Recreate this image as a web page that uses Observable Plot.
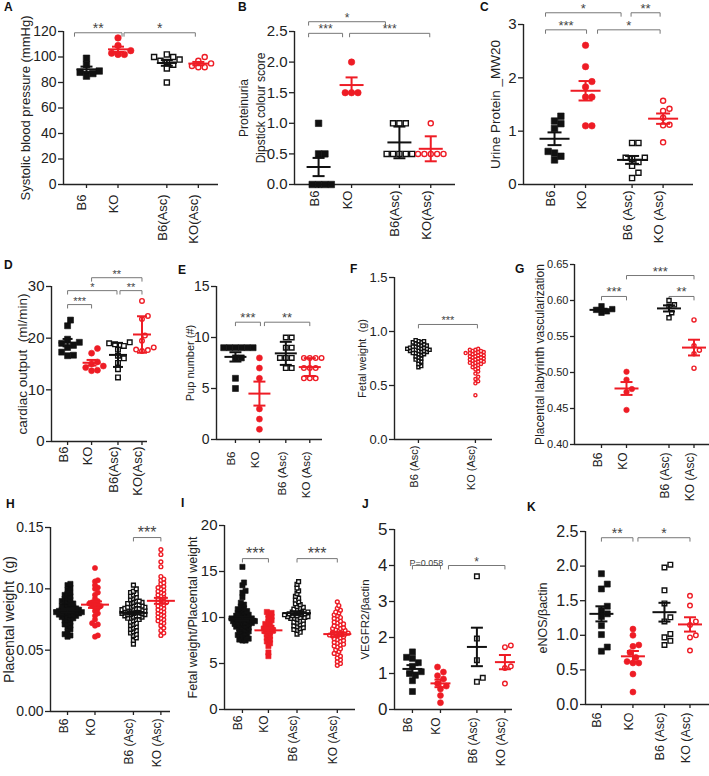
<!DOCTYPE html>
<html><head><meta charset="utf-8">
<script src="https://cdn.jsdelivr.net/npm/d3@7"></script>
<script src="https://cdn.jsdelivr.net/npm/@observablehq/plot@0.6"></script>
<style>
body{margin:0;background:#fff;}
#fig{position:relative;width:709px;height:776px;overflow:hidden;font-family:"Liberation Sans",Arial,sans-serif;background:#fff;}
.lbl{position:absolute;font-weight:bold;font-size:12px;line-height:1;color:#111;}
</style></head><body><div id="fig"></div>
<script>
// ---------------- DATA ----------------
const catsA = ["B6","KO","B6(Asc)","KO(Asc)"];
const sbpB6 = [94, 85, 89, 99, 87, 88];
const sbpKO = [102, 115, 109, 105, 103, 102];
const sbpB6Asc = [100, 98, 102, 96, 94, 91, 80, 100, 97];
const sbpKOAsc = [100, 97, 95, 92, 92, 93];

const catsB = ["B6","KO","B6(Asc)","KO(Asc)"];
const protB6 = [1, 0.5, 0.5, 0, 0, 0, 0];
const protKO = [2, 1.5, 1.5, 1.5];
const protB6Asc = [1, 1, 1, 0.5, 0.5, 0.5, 0.5, 0.5];
const protKOAsc = [1, 0.5, 0.5, 0.5, 0.5, 0.5];

const catsC = ["B6","KO","B6 (Asc)","KO (Asc)"];
const upB6 = [1.14, 1.19, 1.28, 1.05, 0.62, 0.46, 0.59, 0.53];
const upKO = [2.61, 2.21, 1.93, 1.83, 1.64, 1.64, 1.10, 1.10];
const upB6Asc = [0.78, 0.78, 0.50, 0.50, 0.48, 0.42, 0.35, 0.22, 0.12];
const upKOAsc = [1.57, 1.42, 1.38, 1.25, 1.11, 1.12, 0.79];

const catsD = ["B6","KO","B6(Asc)","KO(Asc)"];
const cardB6 = [23.5, 22.4, 19.8, 19.0, 19.2, 18.6, 18.2, 16.7, 16.6, 17.3];
const cardKO = [18.0, 17.1, 15.4, 15.0, 14.6, 13.7, 13.8, 14.3];
const cardB6Asc = [18.8, 19.2, 19.0, 18.5, 16.6, 16.1, 15.2, 14.0, 12.4, 17.8];
const cardKOAsc = [27.2, 24.3, 23.7, 19.5, 17.7, 17.5, 17.8, 18.2, 20.5];

const catsE = ["B6","KO","B6 (Asc)","KO (Asc)"];
const pupB6 = [9, 9, 9, 9, 9, 9, 8, 8, 6, 5];
const pupKO = [8, 7, 6, 3, 2, 1];
const pupB6Asc = [10, 10, 9, 9, 8, 8, 8, 7, 7];
const pupKOAsc = [8, 8, 8, 8, 7, 7, 7, 6, 6, 6];

const catsF = ["B6 (Asc)","KO (Asc)"];
const fwB6Asc = [0.92,0.91,0.91,0.90,0.90,0.89,0.88,0.88,0.87,0.87,0.86,0.86,0.85,0.85,0.85,0.84,0.84,0.84,0.83,0.83,0.83,0.82,0.82,0.82,0.81,0.81,0.80,0.80,0.79,0.79,0.78,0.77,0.76,0.75,0.74,0.73,0.72,0.70,0.68,0.67];
const fwKOAsc = [0.84,0.83,0.83,0.82,0.82,0.81,0.81,0.80,0.80,0.80,0.79,0.79,0.78,0.78,0.77,0.77,0.76,0.76,0.75,0.75,0.74,0.74,0.73,0.73,0.72,0.72,0.71,0.71,0.70,0.70,0.69,0.68,0.67,0.66,0.65,0.63,0.61,0.58,0.56,0.54,0.52,0.41];

const catsG = ["B6","KO","B6 (Asc)","KO (Asc)"];
const labB6 = [0.592, 0.588, 0.585, 0.583, 0.587];
const labKO = [0.501, 0.490, 0.477, 0.473, 0.448];
const labB6Asc = [0.600, 0.592, 0.583, 0.576, 0.594];
const labKOAsc = [0.573, 0.537, 0.531, 0.526, 0.506];

const catsH = ["B6","KO","B6 (Asc)","KO (Asc)"];
const pwB6 = [0.104,0.103,0.101,0.099,0.097,0.096,0.095,0.094,0.093,0.092,0.091,0.090,0.090,0.089,0.088,0.088,0.087,0.086,0.086,0.085,0.085,0.084,0.084,0.083,0.083,0.083,0.082,0.082,0.082,0.081,0.081,0.081,0.081,0.080,0.080,0.080,0.079,0.079,0.079,0.078,0.078,0.077,0.077,0.076,0.076,0.075,0.074,0.073,0.072,0.071,0.070,0.069,0.067,0.065,0.063,0.062,0.061];
const pwKO = [0.117,0.107,0.106,0.103,0.101,0.100,0.097,0.095,0.092,0.090,0.089,0.088,0.088,0.087,0.086,0.086,0.085,0.084,0.082,0.080,0.078,0.075,0.072,0.071,0.070,0.062,0.061];
const pwB6Asc = [0.103,0.100,0.098,0.097,0.096,0.095,0.094,0.093,0.092,0.091,0.090,0.090,0.089,0.089,0.088,0.088,0.087,0.087,0.086,0.086,0.085,0.085,0.085,0.084,0.084,0.084,0.083,0.083,0.083,0.082,0.082,0.082,0.081,0.081,0.081,0.080,0.080,0.080,0.079,0.079,0.079,0.078,0.078,0.078,0.077,0.077,0.076,0.076,0.075,0.075,0.074,0.073,0.072,0.071,0.070,0.069,0.068,0.067,0.066,0.065,0.064,0.063,0.062,0.060,0.058,0.055];
const pwKOAsc = [0.132,0.128,0.122,0.118,0.110,0.108,0.107,0.105,0.104,0.102,0.101,0.100,0.099,0.098,0.097,0.096,0.095,0.094,0.093,0.092,0.091,0.090,0.089,0.089,0.088,0.087,0.086,0.085,0.084,0.083,0.082,0.081,0.080,0.079,0.078,0.077,0.076,0.075,0.074,0.073,0.072,0.070,0.068,0.066,0.064,0.062];

const catsI = ["B6","KO","B6 (Asc)","KO (Asc)"];
const ratioB6 = [15.5,13.8,13.5,12.9,12.7,12.2,11.6,11.4,11.2,11.0,10.9,10.8,10.7,10.6,10.5,10.4,10.3,10.3,10.2,10.1,10.0,10.0,9.9,9.9,9.8,9.8,9.7,9.7,9.6,9.6,9.5,9.5,9.4,9.4,9.3,9.3,9.2,9.1,9.0,9.0,8.9,8.8,8.7,8.6,8.5,8.4,8.3,8.2,8.1,8.0,7.9,7.8,7.7,7.6,7.5,7.5];
const ratioKO = [10.6,10.5,10.3,10.1,9.9,9.7,9.5,9.3,9.2,9.0,8.9,8.8,8.7,8.6,8.5,8.4,8.2,8.0,7.8,7.6,7.4,7.2,6.9,6.2,5.8];
const ratioB6Asc = [13.9,13.6,13.2,12.9,12.6,12.3,12.1,11.9,11.7,11.5,11.4,11.2,11.1,11.0,10.9,10.8,10.7,10.6,10.6,10.5,10.5,10.4,10.4,10.3,10.3,10.2,10.2,10.1,10.1,10.0,10.0,9.9,9.9,9.8,9.7,9.6,9.5,9.4,9.3,9.2,9.1,9.0,8.9,8.8,8.7,8.6,8.4,8.2];
const ratioKOAsc = [11.7,11.3,11.0,10.8,10.6,10.5,10.3,10.2,10.0,9.9,9.8,9.6,9.5,9.4,9.3,9.2,9.1,9.0,8.9,8.8,8.8,8.7,8.6,8.5,8.5,8.4,8.3,8.3,8.2,8.2,8.1,8.0,8.0,7.9,7.8,7.7,7.6,7.5,7.4,7.3,7.2,7.1,7.0,6.9,6.8,6.6,6.5,6.3,6.1,6.0,5.8,5.6,5.4,5.2,5.0,4.8];

const catsJ = ["B6","KO","B6 (Asc)","KO (Asc)"];
const vegB6 = [1.6, 1.45, 1.42, 1.3, 1.2, 1.05, 0.95, 0.8, 0.5, 1.0];
const vegKO = [1.18, 1.04, 0.94, 0.85, 0.72, 0.65, 0.57, 0.39, 0.19];
const vegB6Asc = [3.7, 1.97, 1.37, 0.88, 0.77];
const vegKOAsc = [1.78, 1.73, 1.2, 1.15, 0.72];

const catsK = ["B6","KO","B6 (Asc)","KO (Asc)"];
const enB6 = [1.89, 1.74, 1.67, 1.42, 1.36, 1.31, 1.27, 1.14, 1.01, 0.83, 0.77];
const enKO = [1.09, 1.0, 0.86, 0.84, 0.75, 0.68, 0.62, 0.6, 0.6, 0.44, 0.18];
const enB6Asc = [2.02, 1.98, 1.65, 1.46, 1.26, 1.2, 1.02, 0.97, 0.92, 0.86];
const enKOAsc = [1.57, 1.43, 1.2, 1.15, 1.0, 0.97, 0.78];

// ---------------- STYLE ----------------
const RED = "#ee1c25", BLK = "#111", AX = "#222";
const std = [
  {shape: "square", filled: true, color: BLK},
  {shape: "circle", filled: true, color: RED},
  {shape: "square", filled: false, color: BLK},
  {shape: "circle", filled: false, color: RED}
];
const fmt0 = d3.format("d"), fmt1 = d3.format(".1f"), fmt2 = d3.format(".2f");

const fig = document.getElementById("fig");
function letter(t, x, y) {
  const d = document.createElement("div");
  d.className = "lbl"; d.textContent = t;
  d.style.left = x + "px"; d.style.top = y + "px";
  fig.appendChild(d);
}

function drawPanel(cfg) {
  const mL = 80, mR = 20, mT = 40, mB = 90;
  const [fx0, fx1, fyT, fyB] = cfg.frame;
  const W = fx1 - fx0, H = fyB - fyT;
  const xdom = cfg.xdom, ydom = cfg.ydom;
  const pxu = W / (xdom[1] - xdom[0]);
  const pyu = H / (ydom[1] - ydom[0]);
  const styles = cfg.styles || std;
  const pack = cfg.pack || 0.98;
  const marks = [];
  marks.push(Plot.ruleY([ydom[0]], {stroke: AX, strokeWidth: 1.4}));
  marks.push(Plot.ruleX([xdom[0]], {stroke: AX, strokeWidth: 1.4}));
  marks.push(Plot.axisY({ticks: cfg.yticks, tickFormat: cfg.yfmt, tickSize: cfg.tickSize || 5, tickPadding: 2, fontSize: cfg.fsTick, label: null, strokeWidth: 1.3}));
  marks.push(Plot.axisX({ticks: cfg.slots, tickFormat: () => "", tickSize: 4, label: null, strokeWidth: 1.3}));
  marks.push(Plot.text(cfg.cats, {x: (d, i) => cfg.slots[i], frameAnchor: "bottom", rotate: -90, textAnchor: "end", dy: cfg.catGap, fontSize: cfg.fsCat}));
  marks.push(Plot.text([cfg.ylabel], {frameAnchor: "left", rotate: -90, textAnchor: "middle", dx: -cfg.ylabOff, fontSize: cfg.fsLab, lineHeight: cfg.lineHeight || 1}));
  // brackets
  const bl = [], bt = [];
  (cfg.brackets || []).forEach(([a, b, lab, lev, da = 0, db = 0, fs], k) => {
    const xa = cfg.slots[cfg.cats.indexOf(a)] + da / pxu;
    const xb = cfg.slots[cfg.cats.indexOf(b)] + db / pxu;
    const tk = 3.5 / pyu;
    bl.push({id: k, x: xa, y: lev - tk}, {id: k, x: xa, y: lev}, {id: k, x: xb, y: lev}, {id: k, x: xb, y: lev - tk});
    bt.push({x: (xa + xb) / 2, y: lev, t: lab, fs: fs || cfg.fsStar});
  });
  marks.push(Plot.line(bl, {x: "x", y: "y", z: "id", stroke: "#777", strokeWidth: 1}));
  marks.push(Plot.text(bt, {x: "x", y: "y", text: "t", fontSize: d => d.fs, lineAnchor: "bottom", dy: 0, fill: "#444"}));
  // swarms
  const D = cfg.size;
  cfg.groups.forEach((vals, gi) => {
    const st = styles[gi];
    const placed = [], pts = [];
    const order = vals.slice().sort((a, b) => a - b);
    for (const v of order) {
      const py = v * pyu;
      let off = 0;
      for (let k = 0; k < 400; k++) {
        const c = k === 0 ? 0 : (k % 2 ? 1 : -1) * Math.ceil(k / 2) * D * 0.5 * pack;
        if (placed.every(p => Math.hypot(p.ox - c, p.py - py) >= D * pack)) { off = c; break; }
      }
      placed.push({ox: off, py});
      pts.push({x: cfg.slots[gi] + off / pxu, y: v});
    }
    const sw = st.filled ? 0.6 : 1.4;
    const r = st.shape === "square" ? (D - (st.filled ? 0 : sw)) / 1.772 : (D - (st.filled ? 0 : sw)) / 2;
    marks.push(Plot.dot(pts, {x: "x", y: "y", symbol: st.shape, r, fill: st.filled ? st.color : "white", stroke: st.color, strokeWidth: sw}));
  });
  // error bars
  if (cfg.err) {
    cfg.groups.forEach((vals, gi) => {
      const st = styles[gi];
      const m = d3.mean(vals), sd = d3.deviation(vals);
      const e = cfg.err[gi] === "sd" ? sd : sd / Math.sqrt(vals.length);
      const x = cfg.slots[gi], mw = cfg.meanHalf / pxu, cw = cfg.capHalf / pxu;
      const segs = [
        {x1: x - mw, x2: x + mw, y1: m, y2: m},
        {x1: x, x2: x, y1: m - e, y2: m + e},
        {x1: x - cw, x2: x + cw, y1: m + e, y2: m + e},
        {x1: x - cw, x2: x + cw, y1: m - e, y2: m - e}
      ];
      marks.push(Plot.link(segs, {x1: "x1", x2: "x2", y1: "y1", y2: "y2", stroke: st.color, strokeWidth: 2}));
    });
  }
  const svg = Plot.plot({
    width: mL + W + mR, height: mT + H + mB,
    marginLeft: mL, marginRight: mR, marginTop: mT, marginBottom: mB,
    x: {type: "linear", domain: xdom},
    y: {type: "linear", domain: ydom},
    style: {background: "transparent", overflow: "visible", fontFamily: "'Liberation Sans', Arial, sans-serif", color: "#222", maxWidth: "none"},
    marks
  });
  svg.style.position = "absolute";
  svg.style.left = (fx0 - mL) + "px";
  svg.style.top = (fyT - mT) + "px";
  fig.appendChild(svg);
}

const rng = (a, b, s) => d3.range(a, b + s / 2, s);

drawPanel({frame: [63, 218, 31, 184], ydom: [0, 120], yticks: rng(0, 120, 20), yfmt: fmt0,
  slots: [0, 1, 2.55, 3.55], xdom: [-0.73, 4.19], cats: catsA, catGap: 10,
  fsTick: 14, fsCat: 13, fsLab: 13, fsStar: 14, ylabel: "Systolic blood pressure (mmHg)", ylabOff: 38,
  size: 6.5, meanHalf: 10, capHalf: 6, err: ["sem","sem","sem","sem"],
  groups: [sbpB6, sbpKO, sbpB6Asc, sbpKOAsc],
  brackets: [["B6","KO","**",119,-12,4], ["KO","KO(Asc)","*",119,6,-3]]});

drawPanel({frame: [294, 455, 31, 184], ydom: [0, 2.5], yticks: rng(0, 2.5, 0.5), yfmt: fmt1,
  slots: [0, 1, 2.45, 3.4], xdom: [-0.73, 4.15], cats: catsB, catGap: 6,
  fsTick: 15, fsCat: 13, fsLab: 12, fsStar: 12, ylabel: "Proteinuria\nDipstick colour score", ylabOff: 43, lineHeight: 1.4,
  size: 6.5, meanHalf: 12, capHalf: 6, err: ["sem","sem","sd","sd"],
  groups: [protB6, protKO, protB6Asc, protKOAsc],
  brackets: [["B6","KO","***",2.47,-10,-9], ["B6","B6(Asc)","*",2.66,-10,-14], ["KO","KO(Asc)","***",2.47,-2,-1]]});

drawPanel({frame: [523, 693, 24, 184], ydom: [0, 3], yticks: [0, 1, 2, 3], yfmt: fmt0,
  slots: [0, 1, 2.5, 3.5], xdom: [-1.0, 4.48], cats: catsC, catGap: 6,
  fsTick: 15, fsCat: 13, fsLab: 13.5, fsStar: 13, ylabel: "Urine Protein _MW20", ylabOff: 28,
  size: 6.5, meanHalf: 15, capHalf: 7, err: ["sem","sem","sem","sem"],
  groups: [upB6, upKO, upB6Asc, upKOAsc],
  brackets: [["B6","B6 (Asc)","*",3.22,-9,-11], ["B6 (Asc)","KO (Asc)","**",3.22,-1,-3], ["B6","KO","***",2.9,-9,1], ["KO","KO (Asc)","*",2.9,12,-3]]});

drawPanel({frame: [51, 147, 286, 441], ydom: [0, 30], yticks: [0, 10, 20, 30], yfmt: fmt0,
  slots: [0, 1, 2.1, 3.1], xdom: [-0.67, 3.33], cats: catsD, catGap: 5,
  fsTick: 15, fsCat: 13, fsLab: 13.5, fsStar: 11, ylabel: "cardiac output  (ml/min)", ylabOff: 29,
  size: 6, meanHalf: 9, capHalf: 5, err: ["sem","sem","sd","sd"],
  groups: [cardB6, cardKO, cardB6Asc, cardKOAsc],
  brackets: [["B6","KO","***",26.5,0,0], ["B6","B6(Asc)","*",29.2,0,-1], ["B6(Asc)","KO(Asc)","**",29.2,2,0], ["KO","KO(Asc)","**",31.7,0,0]]});

drawPanel({frame: [216, 322, 286, 439], ydom: [0, 15], yticks: [0, 5, 10, 15], yfmt: fmt0,
  slots: [0, 1, 2.1, 3.1], xdom: [-0.79, 3.63], cats: catsE, catGap: 12,
  fsTick: 14, fsCat: 11.5, fsLab: 11, fsStar: 13, ylabel: "Pup number (#)", ylabOff: 26,
  size: 6, meanHalf: 11, capHalf: 6, err: ["sem","sem","sd","sd"],
  groups: [pupB6, pupKO, pupB6Asc, pupKOAsc],
  brackets: [["B6","KO","***",11.5,0,1], ["KO","KO (Asc)","**",11.5,5,0]]});

drawPanel({frame: [394, 492, 277, 439], ydom: [0, 1.5], yticks: [0, 0.5, 1, 1.5], yfmt: fmt1,
  slots: [0, 1], xdom: [-0.42, 1.30], cats: catsF, catGap: 6,
  fsTick: 13, fsCat: 11, fsLab: 11, fsStar: 11, ylabel: "Fetal weight  (g)", ylabOff: 32,
  size: 4.5, pack: 0.62, err: null, styles: [std[2], std[3]],
  groups: [fwB6Asc, fwKOAsc],
  brackets: [["B6 (Asc)","KO (Asc)","***",1.065,0,2]]});

drawPanel({frame: [574, 709, 264, 444], ydom: [0.40, 0.65], yticks: rng(0.40, 0.65, 0.05), yfmt: fmt2,
  slots: [0, 1, 2.7, 3.7], xdom: [-1.08, 4.32], cats: catsG, catGap: 8,
  fsTick: 11, fsCat: 12, fsLab: 12, fsStar: 13, ylabel: "Placental labyrinth vascularization", ylabOff: 34, tickSize: 4,
  size: 5.5, meanHalf: 12, capHalf: 6, err: ["sem","sem","sem","sem"],
  groups: [labB6, labKO, labB6Asc, labKOAsc],
  brackets: [["B6","KO","***",0.6056,0,0], ["KO","KO (Asc)","***",0.6347,0,0], ["B6 (Asc)","KO (Asc)","**",0.6056,0,0]]});

drawPanel({frame: [50, 170, 527, 711], ydom: [0, 0.15], yticks: [0, 0.05, 0.10, 0.15], yfmt: fmt2,
  slots: [0, 1, 2.4, 3.4], xdom: [-0.62, 3.75], cats: catsH, catGap: 7,
  fsTick: 14, fsCat: 12, fsLab: 14, fsStar: 16, ylabel: "Placental weight  (g)", ylabOff: 41,
  size: 5.2, pack: 0.55, meanHalf: 14, capHalf: 7, err: ["sem","sem","sem","sem"],
  groups: [pwB6, pwKO, pwB6Asc, pwKOAsc],
  brackets: [["B6 (Asc)","KO (Asc)","***",0.1418,0,0]]});

drawPanel({frame: [224, 355, 525, 709], ydom: [0, 20], yticks: [0, 5, 10, 15, 20], yfmt: fmt0,
  slots: [0, 1, 2.1, 3.65], xdom: [-0.69, 4.35], cats: catsI, catGap: 6,
  fsTick: 15, fsCat: 12, fsLab: 12.5, fsStar: 16, ylabel: "Fetal weight/Placental weight", ylabOff: 32,
  size: 5.2, pack: 0.6, meanHalf: 14, capHalf: 7, err: ["sem","sem","sem","sem"],
  styles: [std[0], {shape: "square", filled: true, color: RED}, std[2], std[3]],
  groups: [ratioB6, ratioKO, ratioB6Asc, ratioKOAsc],
  brackets: [["B6","KO","***",16.4,0,0], ["B6 (Asc)","KO (Asc)","***",16.4,0,0]]});

drawPanel({frame: [394, 512, 529, 709], ydom: [0, 5], yticks: [0, 1, 2, 3, 4, 5], yfmt: fmt0,
  slots: [0, 1, 2.3, 3.3], xdom: [-0.64, 3.57], cats: catsJ, catGap: 8,
  fsTick: 17, fsCat: 12, fsLab: 11.5, fsStar: 12, ylabel: "VEGFR2/βactin", ylabOff: 29,
  size: 6, meanHalf: 10, capHalf: 6, err: ["sem","sem","sem","sem"],
  groups: [vegB6, vegKO, vegB6Asc, vegKOAsc],
  brackets: [["B6","KO","P=0.058",4.0,0,0,9], ["KO","KO (Asc)","*",4.0,8,0]]});

drawPanel({frame: [585, 709, 531, 704], ydom: [0, 2.5], yticks: rng(0, 2.5, 0.5), yfmt: fmt1,
  slots: [0, 1.05, 2.1, 2.95], xdom: [-0.53, 3.6], cats: catsK, catGap: 8,
  fsTick: 16, fsCat: 12.5, fsLab: 12.5, fsStar: 14, ylabel: "eNOS/βactin", ylabOff: 43,
  size: 6, meanHalf: 12, capHalf: 6, err: ["sem","sem","sem","sem"],
  groups: [enB6, enKO, enB6Asc, enKOAsc],
  brackets: [["B6","KO","**",2.41,0,0], ["KO","KO (Asc)","*",2.41,5,0]]});

letter("A", 4, 1); letter("B", 238, 1); letter("C", 480, 1);
letter("D", 4, 259); letter("E", 178, 264); letter("F", 350, 263); letter("G", 515, 263);
letter("H", 6, 498); letter("I", 181, 497); letter("J", 362, 498); letter("K", 527, 501);
</script></body></html>
